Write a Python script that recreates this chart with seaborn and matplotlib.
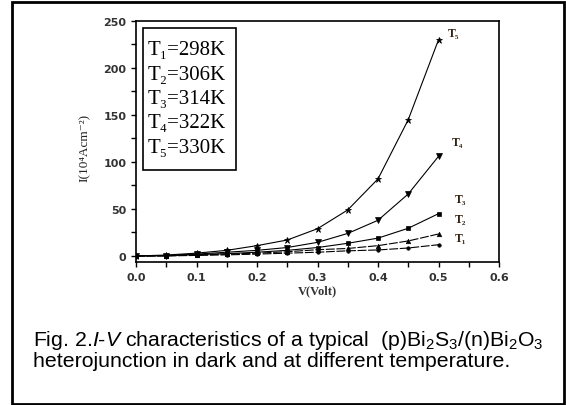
import matplotlib
matplotlib.use('Agg')
import matplotlib.pyplot as plt
import seaborn as sns
import pandas as pd
from matplotlib.patches import Rectangle
from matplotlib.ticker import MultipleLocator

# ---- data ----
voltage = [0.00, 0.05, 0.10, 0.15, 0.20, 0.25, 0.30, 0.35, 0.40, 0.45, 0.50]
I_T1 = [0.0, 0.1, 0.6, 1.2, 2.0, 3.0, 4.0, 5.5, 6.4, 8.5, 12.0]
I_T2 = [0.0, 0.2, 1.0, 2.0, 3.0, 4.5, 6.7, 8.0, 11.0, 16.0, 23.4]
I_T3 = [0.0, 0.3, 1.5, 2.5, 4.0, 6.0, 9.0, 13.5, 19.0, 29.5, 45.0]
I_T4 = [0.0, 0.5, 2.0, 4.0, 6.0, 9.0, 14.5, 24.0, 38.0, 66.0, 106.0]
I_T5 = [0.0, 1.0, 3.0, 6.0, 11.0, 17.0, 29.0, 49.0, 82.0, 145.0, 230.0]
series_names = ["T1", "T2", "T3", "T4", "T5"]
legend_lines = ["T\u2081=298K", "T\u2082=306K", "T\u2083=314K", "T\u2084=322K", "T\u2085=330K"]
curve_labels = ["T\u2081", "T\u2082", "T\u2083", "T\u2084", "T\u2085"]
x_ticks = [0.0, 0.1, 0.2, 0.3, 0.4, 0.5, 0.6]
y_ticks = [0, 50, 100, 150, 200, 250]

sns.set_theme(style="ticks")
plt.rcParams['font.family'] = ['DejaVu Sans']
plt.rcParams['mathtext.fontset'] = 'custom'
plt.rcParams['mathtext.rm'] = 'Liberation Sans'
plt.rcParams['mathtext.it'] = 'Liberation Sans:italic'

W, H = 566, 406
fig = plt.figure(figsize=(W / 100, H / 100), dpi=100)
ax = fig.add_axes([136 / W, 1 - 263 / H, (499 - 136) / W, (263 - 22) / H])

df = pd.DataFrame({"V": voltage, "T1": I_T1, "T2": I_T2, "T3": I_T3, "T4": I_T4, "T5": I_T5})
markers = {"T1": "o", "T2": "^", "T3": "s", "T4": "v", "T5": "*"}
msizes = {"T1": 2.5, "T2": 3.2, "T3": 3.2, "T4": 3.8, "T5": 5}
lstyles = {"T1": (0, (8, 1.5)), "T2": (0, (8, 1.5)), "T3": "-", "T4": "-", "T5": "-"}
for name in series_names:
    sns.lineplot(data=df, x="V", y=name, ax=ax, color="black", linewidth=0.8,
                 linestyle=lstyles[name], marker=markers[name], markersize=msizes[name],
                 markeredgewidth=0.5, markerfacecolor="black", markeredgecolor="black")

ax.set_xlim(0, 0.6)
ax.set_ylim(-6.4, 250)
ax.set_xticks(x_ticks)
ax.set_yticks(y_ticks)
ax.xaxis.set_minor_locator(MultipleLocator(0.05))
ax.yaxis.set_minor_locator(MultipleLocator(25))
ax.set_xticklabels([f"{t:.1f}" for t in x_ticks])
ax.set_yticklabels([f"{t:d}" for t in y_ticks])
ax.tick_params(axis='both', which='both', direction='out', length=3.5, width=1,
               colors='black', labelsize=8, top=False, right=False)
for lab in ax.get_xticklabels() + ax.get_yticklabels():
    lab.set_fontweight('bold')
    lab.set_color('#333333')
for s in ax.spines.values():
    s.set_visible(True)
    s.set_linewidth(1.2)
    s.set_color('black')

ax.set_xlabel("")
ax.set_ylabel("")
serif = ['Liberation Serif', 'DejaVu Serif']
fig.text(317 / W, 1 - 291 / H, "V(Volt)", ha='center', va='center',
         family=serif, fontsize=9, fontweight='bold', color='#333333')
fig.text(85 / W, 1 - 148 / H, "I(10\u2074Acm\u207b\u00b2)", ha='center', va='center',
         rotation=90, family=serif, fontsize=9.5, color='#222222')

# curve labels
label_pos = [(0.527, 16), (0.527, 36), (0.527, 57), (0.522, 118), (0.516, 234)]
for txt, (xv, yv) in zip(curve_labels, label_pos):
    ax.text(xv, yv, txt, family=serif, fontsize=8.5, fontweight='bold',
            color='#332211', ha='left', va='baseline')

# legend box
fig.patches.append(Rectangle((143 / W, 1 - 171 / H), 93 / W, 142 / H, transform=fig.transFigure,
                             fill=True, facecolor='white', edgecolor='black', linewidth=1.2, zorder=5))
baselines = [55, 80, 104, 128, 153]
for txt, b in zip(legend_lines, baselines):
    fig.text(148 / W, 1 - b / H, txt, family=serif, fontsize=15, ha='left', va='baseline',
             color='black', zorder=6)

# caption
fig.text(33 / W, 1 - 346 / H,
         r"Fig. 2.$\mathit{I}$-$\mathit{V}$ characteristics of a typical  (p)Bi$_2$S$_3$/(n)Bi$_2$O$_3$",
         family=['Liberation Sans'], fontsize=15.3, ha='left', va='baseline', color='black')
fig.text(33 / W, 1 - 367 / H, "heterojunction in dark and at different temperature.",
         family=['Liberation Sans'], fontsize=15.3, ha='left', va='baseline', color='black')

# outer frame
fig.patches.append(Rectangle((12 / W, 1 - 405 / H), 552 / W, 402 / H, transform=fig.transFigure,
                             fill=False, edgecolor='black', linewidth=2))

fig.savefig("out.png", dpi=100)
